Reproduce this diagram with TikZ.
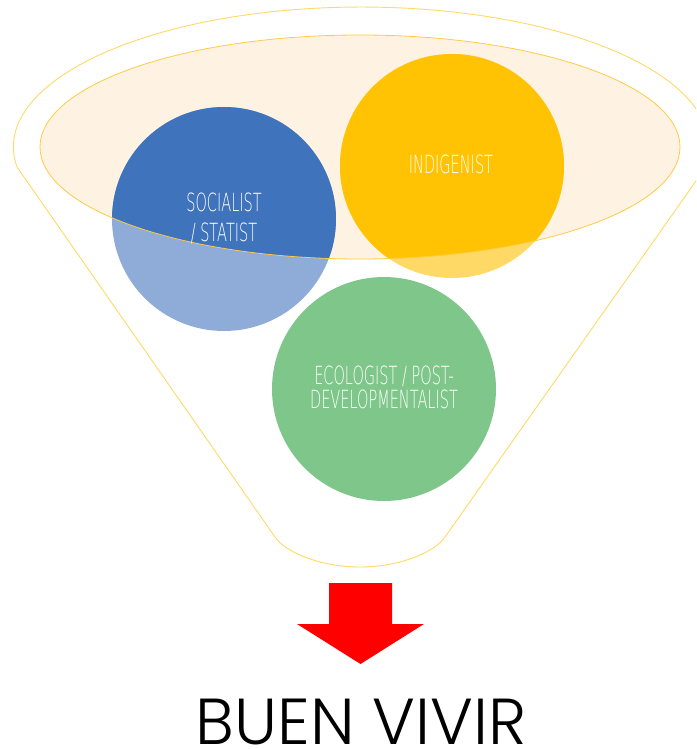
\documentclass[tikz,border=0pt]{standalone}
\usepackage{fontspec}
\newfontfamily\bubblefont[FakeStretch=0.58]{DejaVu Sans ExtraLight}
\newfontfamily\titlefont{Poppins Light}
\definecolor{funnelline}{HTML}{FFD966}
\definecolor{rimfill}{HTML}{FEF2E3}
\definecolor{rimline}{HTML}{FFCB45}
\definecolor{bluedk}{HTML}{3F73BC}
\definecolor{bluelt}{HTML}{8EACD7}
\definecolor{yeldk}{HTML}{FFC303}
\definecolor{yellt}{HTML}{FFD966}
\definecolor{greenc}{HTML}{7FC68A}
\definecolor{arrowred}{HTML}{FF0000}
\begin{document}
\begin{tikzpicture}[x=1pt,y=-1pt,
  bubble/.style={circle,inner sep=0pt,minimum size=224pt,draw=none},
  bubbletext/.style={text=white,align=center,font=\bubblefont\fontsize{25}{30}\selectfont,inner sep=0pt},
  funnelstroke/.style={draw=funnelline,line width=0.9pt}
]
\useasboundingbox (0,0) rectangle (696,749);
\begin{scope}
\clip (0,0) rectangle (696,749);
% funnel outline
\draw[funnelstroke,line join=round]
  (17,167) arc[start angle=171.8,end angle=368.2,x radius=348,y radius=140]
  -- (445,537)
  .. controls (435,552) and (400,567) .. (360,567)
  .. controls (320,567) and (285,552) .. (275,537)
  -- cycle;
% inner rim
\fill[rimfill] (360,147) ellipse[x radius=320,y radius=112];
\end{scope}
% circles (light, outside rim)
\node[bubble,fill=bluelt] (soc) at (224,219) {};
\node[bubble,fill=yellt] (ind) at (452,166) {};
\node[bubble,fill=greenc] (eco) at (384,389) {};
% full colour inside rim
\begin{scope}
\clip (360,147) ellipse[x radius=320,y radius=112];
\fill[bluedk] (soc.center) circle[radius=112];
\fill[yeldk] (ind.center) circle[radius=112];
\end{scope}
\draw[rimline,line width=0.8pt] (360,147) ellipse[x radius=320,y radius=112];
% labels
\node[bubbletext] (soctext) at (224,218) {SOCIALIST\\/ STATIST};
\node[bubbletext] (indtext) at (451,164) {INDIGENIST};
\node[bubbletext,font=\bubblefont\fontsize{25}{24}\selectfont] (ecotext) at (384,387) {ECOLOGIST / POST-\\DEVELOPMENTALIST};
% arrow
\fill[arrowred] (329,583) -- (392,583) -- (392,624) -- (424,624) -- (360.5,664)
  -- (297,624) -- (329,624) -- cycle;
% title
\node[anchor=base,inner sep=0pt,font=\titlefont\fontsize{65}{67}\selectfont] (title) at (361,744) {BUEN VIVIR};
\end{tikzpicture}
\end{document}
